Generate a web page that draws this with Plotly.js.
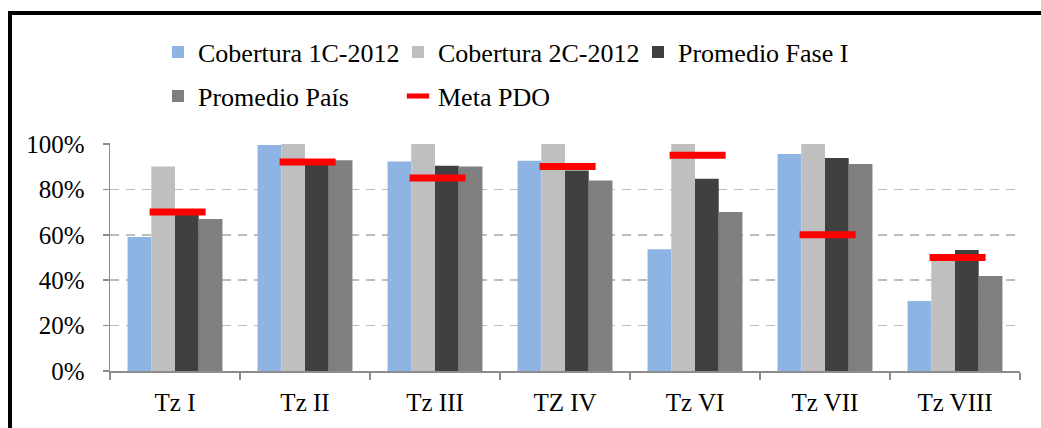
<!DOCTYPE html>
<html>
<head>
<meta charset="utf-8">
<script src="https://cdn.plot.ly/plotly-3.0.1.min.js"></script>
<style>
  html, body { margin: 0; padding: 0; background: #fff; overflow: hidden; }
  #wrap { position: relative; width: 1041px; height: 428px; }
  #chart { width: 1041px; height: 428px; }
  #frame { position: absolute; left: 8px; top: 11px; width: 1100px; height: 500px;
           border-top: 4px solid #000; border-left: 4px solid #000; pointer-events: none; }
</style>
</head>
<body>
<div id="wrap">
  <div id="chart"></div>
  <div id="frame"></div>
</div>
<script>
const categories = ["Tz I", "Tz II", "Tz III", "TZ IV", "Tz VI", "Tz VII", "Tz VIII"];
const cobertura1C = [0.59, 0.995, 0.923, 0.926, 0.536, 0.956, 0.308];
const cobertura2C = [0.90, 1.00, 1.00, 1.00, 1.00, 1.00, 0.485];
const promedioFaseI = [0.69, 0.934, 0.904, 0.883, 0.847, 0.938, 0.533];
const promedioPais = [0.669, 0.928, 0.901, 0.839, 0.70, 0.912, 0.418];
const metaPDO = [0.70, 0.92, 0.85, 0.90, 0.95, 0.60, 0.50];
const yTickVals = [0, 0.2, 0.4, 0.6, 0.8, 1.0];
const yTickText = ["0%", "20%", "40%", "60%", "80%", "100%"];

const serif = "Liberation Serif";

const traces = [
  { type: "bar", name: "Cobertura 1C-2012", x: categories, y: cobertura1C,
    marker: { color: "#8EB4E3" }, legend: "legend" },
  { type: "bar", name: "Cobertura 2C-2012", x: categories, y: cobertura2C,
    marker: { color: "#BFBFBF" }, legend: "legend" },
  { type: "bar", name: "Promedio Fase I", x: categories, y: promedioFaseI,
    marker: { color: "#404040" }, legend: "legend" },
  { type: "bar", name: "Promedio País", x: categories, y: promedioPais,
    marker: { color: "#808080" }, legend: "legend2" },
  { type: "scatter", mode: "markers", name: "Meta PDO", x: categories, y: metaPDO,
    xaxis: "x2",
    marker: { symbol: "line-ew-open", size: 40, color: "#FF0000",
              line: { color: "#FF0000", width: 7 } },
    legend: "legend2" }
];

const legendFont = { family: serif, size: 26, color: "#000000" };

const layout = {
  width: 1041, height: 428,
  margin: { l: 110, r: 21, t: 143, b: 57 },
  paper_bgcolor: "#ffffff", plot_bgcolor: "#ffffff",
  font: { family: serif, size: 25, color: "#000000" },
  barmode: "group", bargap: 0.27, bargroupgap: 0,
  showlegend: true,
  legend: {
    orientation: "h", xref: "container", yref: "container",
    x: 158 / 1041, xanchor: "left", y: 1 - 52 / 428, yanchor: "middle",
    font: legendFont,
    entrywidth: 195, bgcolor: "rgba(0,0,0,0)", traceorder: "normal"
  },
  legend2: {
    orientation: "h", xref: "container", yref: "container",
    x: 158 / 1041, xanchor: "left", y: 1 - 96 / 428, yanchor: "middle",
    font: legendFont,
    entrywidth: 195, bgcolor: "rgba(0,0,0,0)", traceorder: "normal"
  },
  xaxis: {
    type: "category", range: [-0.5, 6.5],
    showline: true, linecolor: "#8c8c8c", linewidth: 1.5,
    ticks: "outside", tickson: "boundaries", ticklen: 7, tickcolor: "#8c8c8c", tickwidth: 1.5,
    ticklabelstandoff: 8,
    showgrid: false, tickfont: { family: serif, size: 25, color: "#000000" },
    fixedrange: true
  },
  xaxis2: {
    type: "category", overlaying: "x", range: [-0.52, 6.48], visible: false, fixedrange: true
  },
  yaxis: {
    range: [0, 1.004], tickvals: yTickVals, ticktext: yTickText,
    showline: true, linecolor: "#8c8c8c", linewidth: 1.5,
    ticks: "outside", ticklen: 6, tickcolor: "#8c8c8c", tickwidth: 1.5,
    ticklabelstandoff: 13,
    showgrid: true, gridcolor: "#bdbdbd", gridwidth: 1.5, griddash: "9px,7px",
    zeroline: false, tickfont: { family: serif, size: 25, color: "#000000" },
    fixedrange: true
  }
};

Plotly.newPlot("chart", traces, layout, { staticPlot: true, displayModeBar: false });
</script>
</body>
</html>
